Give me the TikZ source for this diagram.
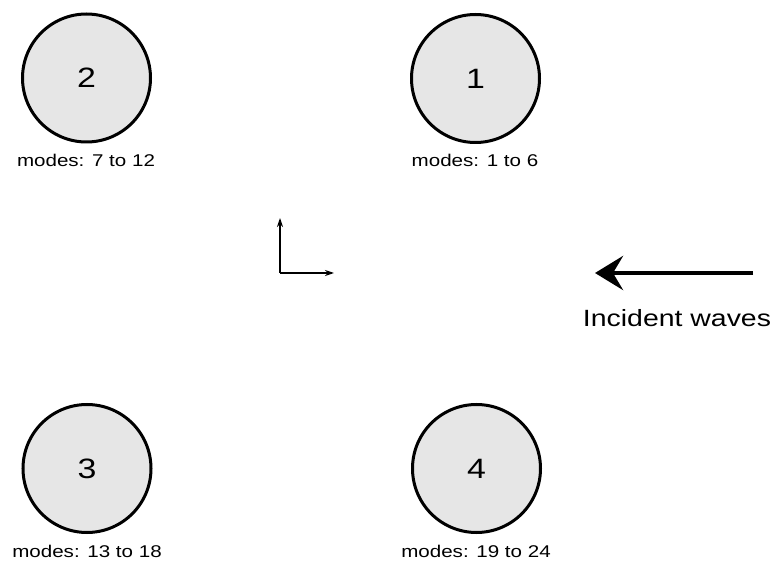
\documentclass[tikz,border=0pt]{standalone}
\usepackage{fontspec}
\setmainfont{Liberation Sans}[FakeStretch=1.21]
\usetikzlibrary{arrows.meta}
\definecolor{bodyfill}{HTML}{E6E6E6}
\begin{document}
\begin{tikzpicture}[x=1pt,y=-1pt,
  body/.style={circle,draw=black,line width=3pt,fill=bodyfill,minimum size=128pt,inner sep=0pt,font=\fontsize{28}{30}\selectfont},
  modelabel/.style={font=\fontsize{17}{19}\selectfont,inner sep=0pt}]
\useasboundingbox (0,0) rectangle (772,561);
\node[body] (b2) at (86.5,78) {2};
\node[body] (b1) at (475.5,78.5) {1};
\node[body] (b3) at (87,468.5) {3};
\node[body] (b4) at (476.5,468.5) {4};
\node[modelabel] (l2) at (86,160) {modes: 7 to 12};
\node[modelabel] (l1) at (475,160) {modes: 1 to 6};
\node[modelabel] (l3) at (87,551) {modes: 13 to 18};
\node[modelabel] (l4) at (476,551) {modes: 19 to 24};
\coordinate (o) at (280,273);
\coordinate (ey) at (280,218);
\coordinate (ex) at (334,273);
\draw[line width=1.2pt,-{Stealth[length=9pt,width=6pt]}] (o) -- (ey);
\draw[line width=1.2pt,-{Stealth[length=9pt,width=6pt]}] (o) -- (ex);
\coordinate (wt) at (753,273);
\coordinate (wh) at (595,273);
\draw[line width=4.5pt,-{Stealth[length=28pt,width=34pt,inset=10pt]}] (wt) -- (wh);
\node[font=\fontsize{23.5}{26}\selectfont,inner sep=0pt] (inc) at (677,318) {Incident waves};
\end{tikzpicture}
\end{document}
